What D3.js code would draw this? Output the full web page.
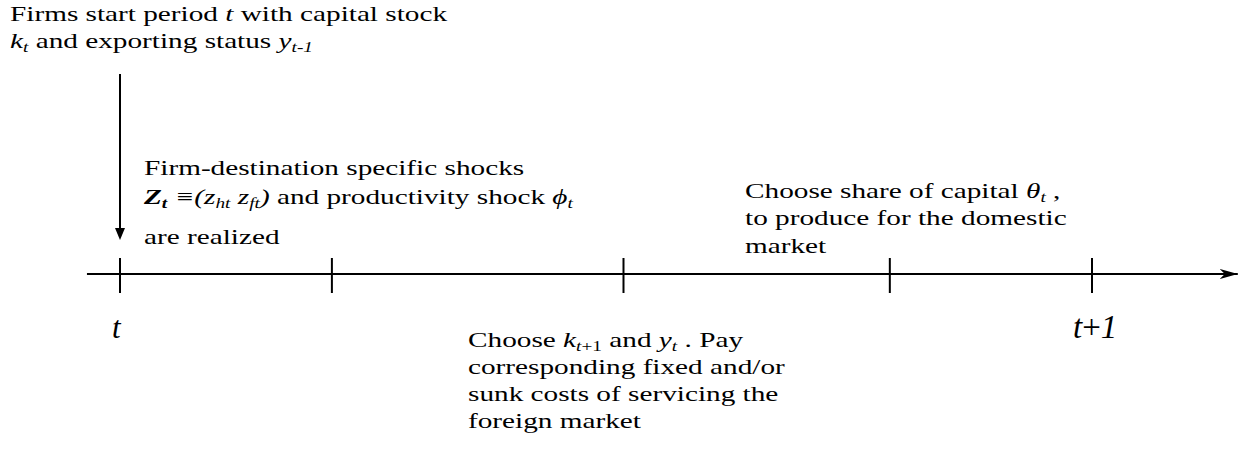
<!DOCTYPE html>
<html>
<head>
<meta charset="utf-8">
<script src="https://cdn.jsdelivr.net/npm/d3@7"></script>
<style>
  body { margin: 0; background: #fff; }
  svg text { white-space: pre; }
</style>
</head>
<body>
<script>
// timeline: fraction of the period, t = 0, t+1 = 1
var tickAt = [0, 0.218, 0.518, 0.792, 1];
var periodAt = [0, 1];
var periodLabels = ['*t*', '*t*+*1*'];

// event notes, light markup: *italic*, **bold italic**, _{subscript}
var startNote = [
  'Firms start period *t* with capital stock',
  '*k*_{*t*} and exporting status *y*_{*t-1*}'
];
var shockNote = [
  'Firm-destination specific shocks',
  '**Z**_{**t**} *≡(z*_{*ht*} *z*_{*ft*}*)* and productivity shock *ϕ*_{*t*}',
  'are realized'
];
var shareNote = [
  'Choose share of capital *θ*_{*t*} ,',
  'to produce for the domestic',
  'market'
];
var chooseNote = [
  'Choose *k*_{*t*+1} and *y*_{*t*} . Pay',
  'corresponding fixed and/or',
  'sunk costs of servicing the',
  'foreign market'
];

var width = 1243, height = 462;
var axisY = 274;
var serif = 'Liberation Serif';
var stretch = 1.33; // the notes are drawn wide in the original figure

var svg = d3.select('body').append('svg')
  .attr('width', width)
  .attr('height', height);

var x = d3.scaleLinear().domain([0, 1]).range([120, 1092]);

svg.append('defs').append('marker')
  .attr('id', 'head')
  .attr('viewBox', '0 0 18 10')
  .attr('refX', 18).attr('refY', 5)
  .attr('markerWidth', 18).attr('markerHeight', 10)
  .attr('markerUnits', 'userSpaceOnUse')
  .attr('orient', 'auto')
  .append('path')
  .attr('d', 'M0,0 L18,5 L0,10 L5,5 Z')
  .attr('fill', '#000');

// main time axis
svg.append('line')
  .attr('x1', x(-0.034)).attr('x2', x(1.15))
  .attr('y1', axisY).attr('y2', axisY)
  .attr('stroke', '#000').attr('stroke-width', 2)
  .attr('marker-end', 'url(#head)');

svg.selectAll('.tick')
  .data(tickAt)
  .enter().append('line')
  .attr('class', 'tick')
  .attr('x1', function(d) { return x(d); })
  .attr('x2', function(d) { return x(d); })
  .attr('y1', axisY - 16).attr('y2', axisY + 19)
  .attr('stroke', '#000').attr('stroke-width', 2);

// arrow from the start note down to the axis
svg.append('line')
  .attr('x1', x(0)).attr('x2', x(0))
  .attr('y1', 74).attr('y2', 230)
  .attr('stroke', '#000').attr('stroke-width', 2);
svg.append('path')
  .attr('d', 'M' + (x(0) - 5) + ',228 L' + (x(0) + 5) + ',228 L' + x(0) + ',240 Z')
  .attr('fill', '#000');

function parse(str) {
  var parts = str.split(/(\*\*|\*|_\{|\})/);
  var segs = [], bold = false, ital = false, sub = false;
  parts.forEach(function(p) {
    if (p === '**') { bold = !bold; return; }
    if (p === '*') { ital = !ital; return; }
    if (p === '_{') { sub = true; return; }
    if (p === '}') { sub = false; return; }
    if (p === '') return;
    segs.push({ text: p, bold: bold, ital: ital || bold, sub: sub });
  });
  return segs;
}

function writeLine(g, str, px, py, size, sx) {
  var t = g.append('text')
    .attr('transform', 'translate(' + px + ',' + py + ') scale(' + sx + ',1)')
    .attr('font-family', serif)
    .attr('font-size', size)
    .attr('fill', '#000');
  var wasSub = false;
  parse(str).forEach(function(s) {
    var dy = 0;
    if (s.sub && !wasSub) dy = size * 0.2;
    if (!s.sub && wasSub) dy = -size * 0.2;
    wasSub = s.sub;
    t.append('tspan')
      .attr('dy', dy)
      .attr('font-style', s.ital ? 'italic' : 'normal')
      .attr('font-weight', s.bold ? 'bold' : 'normal')
      .attr('font-size', s.sub ? size * 0.66 : size)
      .text(s.text);
  });
}

function writeNote(lines, px, baselines, size) {
  var g = svg.append('g');
  lines.forEach(function(l, i) { writeLine(g, l, px, baselines[i], size, stretch); });
}

writeNote(startNote, 10, [21, 48], 22);
writeNote(shockNote, 144, [175, 204, 244], 22);
writeNote(shareNote, 745, [198, 225, 253], 22);
writeNote(chooseNote, 468, [347, 374, 401, 428], 22);

writeLine(svg, periodLabels[0], x(periodAt[0]) - 8, 338, 31, 1);
writeLine(svg, periodLabels[1], x(periodAt[1]) - 19, 338, 33, 1);
</script>
</body>
</html>
